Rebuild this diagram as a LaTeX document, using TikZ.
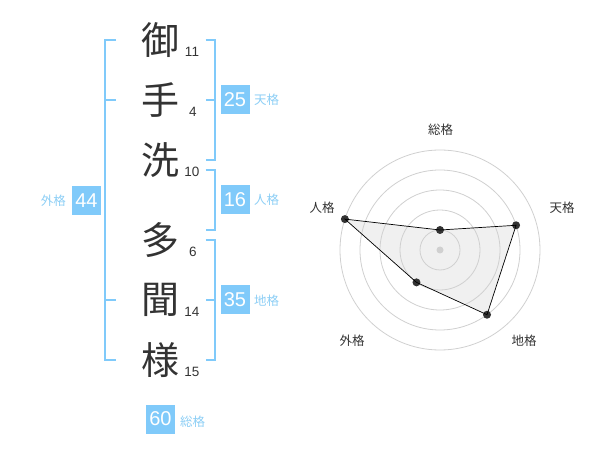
\documentclass[tikz,border=0pt]{standalone}
\usetikzlibrary{calc}
\usepackage{fontspec}
\setmainfont{Liberation Sans}
\newfontfamily\cjk{Noto Sans CJK JP}
\definecolor{sky}{RGB}{128,202,250}
\definecolor{skytext}{RGB}{140,206,245}
\definecolor{ink}{RGB}{51,51,51}
\definecolor{ring}{RGB}{208,208,208}
\begin{document}
\begin{tikzpicture}[x=1pt,y=-1pt,
  kanji/.style={font=\cjk\fontsize{38}{38}\selectfont, text=ink, inner sep=0pt},
  strokes/.style={font=\fontsize{13.5}{13.5}\selectfont, text=ink, inner sep=0pt},
  numbox/.style={fill=sky, text=white, font=\fontsize{20}{20}\selectfont, minimum width=29pt, minimum height=29pt, inner sep=0pt},
  kaku/.style={font=\cjk\fontsize{12.5}{12.5}\selectfont, text=skytext, inner sep=0pt},
  bracket/.style={draw=sky, line width=2pt},
  axislabel/.style={font=\cjk\fontsize{12.5}{12.5}\selectfont, text=ink, inner sep=0pt},
  ringline/.style={draw=ring, line width=0.8pt},
  dot/.style={circle, fill=ink, minimum size=8pt, inner sep=0pt}
]
\useasboundingbox (0,0) rectangle (600,470);
% characters
\node[kanji] (k1) at (160,40) {御};
\node[kanji] (k2) at (160,100) {手};
\node[kanji] (k3) at (160,160) {洗};
\node[kanji] (k4) at (160,240) {多};
\node[kanji] (k5) at (160,300) {聞};
\node[kanji] (k6) at (160,360) {様};
\node[strokes] (s1) at (192,52) {11};
\node[strokes] (s2) at (193,112) {4};
\node[strokes] (s3) at (192,172) {10};
\node[strokes] (s4) at (193,252) {6};
\node[strokes] (s5) at (192,312) {14};
\node[strokes] (s6) at (192,372) {15};
% brackets
\draw[bracket] (116,40) -- (104.5,40) -- (104.5,360) -- (116,360);
\draw[bracket] (104.5,100) -- (116,100);
\draw[bracket] (104.5,300) -- (116,300);
\draw[bracket] (205.5,40) -- (214.5,40) -- (214.5,160) -- (205.5,160);
\draw[bracket] (214.5,100) -- (205.5,100);
\draw[bracket] (205.5,170) -- (214.5,170) -- (214.5,230) -- (205.5,230);
\draw[bracket] (205.5,240) -- (214.5,240) -- (214.5,360) -- (205.5,360);
\draw[bracket] (214.5,300) -- (205.5,300);
% boxes
\node[numbox] (ten) at (235,100) {25};
\node[kaku, anchor=west] (tenl) at (254,100) {天格};
\node[numbox] (jin) at (235,199.5) {16};
\node[kaku, anchor=west] (jinl) at (254,200) {人格};
\node[numbox] (chi) at (235,300) {35};
\node[kaku, anchor=west] (chil) at (254,301) {地格};
\node[numbox] (gai) at (86.5,200.5) {44};
\node[kaku, anchor=east] (gail) at (66,201) {外格};
\node[numbox] (sou) at (160.5,419) {60};
\node[kaku, anchor=west] (soul) at (180,422) {総格};
% radar
\coordinate (c) at (440,250);
\fill[black!6] ($(c)+(-90:20)$) -- ($(c)+(-18:80)$) -- ($(c)+(54:80)$) -- ($(c)+(126:40)$) -- ($(c)+(198:100)$) -- cycle;
\foreach \r in {20,40,60,80,100} { \draw[ringline] (c) circle (\r); }
\node[circle, fill=ring, minimum size=7pt, inner sep=0pt] (center) at (c) {};
\node[dot] (p1) at ($(c)+(-90:20)$) {};
\node[dot] (p2) at ($(c)+(-18:80)$) {};
\node[dot] (p3) at ($(c)+(54:80)$) {};
\node[dot] (p4) at ($(c)+(126:40)$) {};
\node[dot] (p5) at ($(c)+(198:100)$) {};
\draw[black, line width=0.7pt] (p1.center) -- (p2.center) -- (p3.center) -- (p4.center) -- (p5.center) -- cycle;
\node[axislabel] (a1) at (440.5,130) {総格};
\node[axislabel] (a2) at (562,208) {天格};
\node[axislabel] (a3) at (524,341) {地格};
\node[axislabel] (a4) at (352,341) {外格};
\node[axislabel] (a5) at (322,208) {人格};
\end{tikzpicture}
\end{document}
